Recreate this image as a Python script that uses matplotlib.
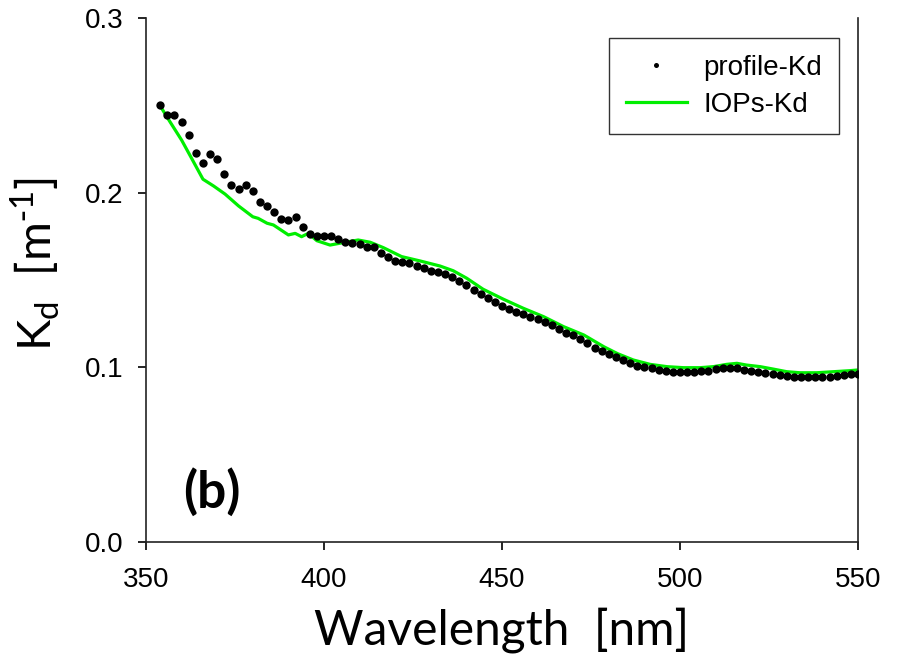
import matplotlib
matplotlib.use("Agg")
import matplotlib.pyplot as plt
import numpy as np

# profile-Kd (dots), every 2 nm from 354 to 550
profile_wl = list(range(354, 551, 2))
profile_kd = [
    0.2502, 0.2445, 0.2445, 0.2407, 0.2330, 0.2225, 0.2172, 0.2220, 0.2191, 0.2105,
    0.2044, 0.2019, 0.2044, 0.2011, 0.1945, 0.1924, 0.1891, 0.1847, 0.1843, 0.1862,
    0.1805, 0.1763, 0.1754, 0.1754, 0.1754, 0.1735, 0.1719, 0.1714, 0.1704, 0.1690,
    0.1687, 0.1653, 0.1630, 0.1611, 0.1605, 0.1599, 0.1580, 0.1567, 0.1553, 0.1548,
    0.1534, 0.1515, 0.1496, 0.1471, 0.1443, 0.1420, 0.1395, 0.1376, 0.1351, 0.1332,
    0.1319, 0.1303, 0.1290, 0.1277, 0.1261, 0.1242, 0.1218, 0.1199, 0.1185, 0.1160,
    0.1138, 0.1110, 0.1095, 0.1078, 0.1061, 0.1042, 0.1023, 0.1010, 0.1004, 0.0994,
    0.0985, 0.0979, 0.0971, 0.0971, 0.0971, 0.0975, 0.0979, 0.0981, 0.0989, 0.0994,
    0.0998, 0.0994, 0.0985, 0.0979, 0.0975, 0.0966, 0.0960, 0.0956, 0.0950, 0.0943,
    0.0943, 0.0943, 0.0943, 0.0943, 0.0946, 0.0950, 0.0956, 0.0960, 0.0960,
]

# IOPs-Kd (green line)
iops_wl = [354, 356.7, 360, 362.8, 366, 369, 372.2, 376, 380, 381.5, 384, 385.8,
           390, 391.9, 393.7, 395.6, 398, 401.7, 405.4, 409.6, 413, 416.7, 421.8,
           427, 432.6, 436.3, 440.1, 444.7, 450.4, 456, 461.7, 467.3, 473, 478.6,
           482.5, 486.9, 491.6, 496.3, 501, 505.6, 509.4, 513.1, 516, 518.7, 522.5,
           526.2, 530, 533.7, 538.4, 543.1, 547.8, 550]
iops_kd = [0.2496, 0.2407, 0.2301, 0.2197, 0.2077, 0.2038, 0.1992, 0.1924, 0.1862,
           0.1853, 0.1825, 0.1815, 0.1758, 0.1767, 0.1748, 0.1767, 0.1725, 0.1700,
           0.1714, 0.1729, 0.1716, 0.1685, 0.1634, 0.1609, 0.1580, 0.1553, 0.1510,
           0.1447, 0.1390, 0.1338, 0.1290, 0.1233, 0.1185, 0.1118, 0.1078, 0.1042,
           0.1017, 0.1004, 0.0998, 0.0998, 0.1004, 0.1017, 0.1023, 0.1013, 0.1004,
           0.0990, 0.0975, 0.0969, 0.0969, 0.0975, 0.0981, 0.0985]

x_ticks = [350, 400, 450, 500, 550]
y_ticks = [0.0, 0.1, 0.2, 0.3]

fig = plt.figure(figsize=(8.98, 6.61), dpi=100)
ax = fig.add_axes([146/898, 1-542/661, 712/898, 524/661])

ax.plot(profile_wl, profile_kd, 'o', color='black', markersize=6,
        markeredgewidth=0, label='profile-Kd', zorder=3)
ax.plot(iops_wl, iops_kd, '-', color='#00ee00', linewidth=2.3,
        label='IOPs-Kd', zorder=2)

ax.set_xlim(350, 550)
ax.set_ylim(0.0, 0.3)
ax.set_xticks(x_ticks)
ax.set_yticks(y_ticks)
ax.set_yticklabels([f"{v:.1f}" for v in y_ticks])
tick_font = 'Liberation Sans'
for lab in ax.get_xticklabels() + ax.get_yticklabels():
    lab.set_fontfamily(tick_font)
    lab.set_fontsize(20)
ax.tick_params(axis='x', direction='out', length=6, width=1.2, pad=12, top=False)
ax.tick_params(axis='y', direction='out', length=6, width=1.2, pad=10, right=False)

ax.spines['top'].set_visible(False)
for s in ['left', 'bottom', 'right']:
    ax.spines[s].set_linewidth(1.2)
    ax.spines[s].set_color('#222222')

label_font = 'Lato'
ax.set_xlabel('Wavelength  [nm]', fontsize=34.5, fontfamily=label_font, labelpad=10)
ax.set_ylabel(r'K$_{\mathregular{d}}$  [m$^{\mathregular{\text{-}1}}$]', fontsize=34,
              fontfamily=label_font)
ax.yaxis.set_label_coords(-0.118, 0.53)

ax.text(0.052, 0.095, '(b)', transform=ax.transAxes, fontsize=37,
        fontweight='bold', fontfamily=label_font, ha='left', va='center')

leg = ax.legend(loc='upper right', bbox_to_anchor=((839-146)/712, (542-38)/524),
                borderaxespad=0, frameon=True, fancybox=False, edgecolor='black',
                prop={'family': tick_font, 'size': 20}, markerscale=0.6,
                handlelength=2.2, handletextpad=0.6, borderpad=0.6,
                labelspacing=0.4)
leg.get_frame().set_linewidth(1.0)

fig.savefig('out.png', dpi=100)
